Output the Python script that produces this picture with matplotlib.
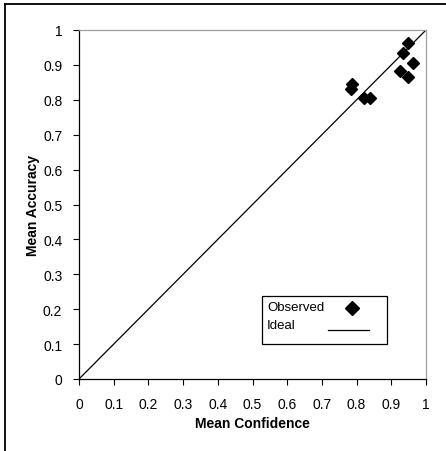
import matplotlib
matplotlib.use("Agg")
import matplotlib.pyplot as plt
from matplotlib.lines import Line2D
from matplotlib.patches import Rectangle

# ── data ──────────────────────────────────────────────────────────────────────
confidence = [0.947, 0.935, 0.963, 0.926, 0.949, 0.788, 0.784, 0.822, 0.838]
accuracy   = [0.962, 0.935, 0.905, 0.882, 0.865, 0.844, 0.831, 0.806, 0.804]
ideal      = [0, 1]
ticks      = [0, 0.1, 0.2, 0.3, 0.4, 0.5, 0.6, 0.7, 0.8, 0.9, 1]
tick_labels = ["0", "0.1", "0.2", "0.3", "0.4", "0.5", "0.6", "0.7", "0.8", "0.9", "1"]
legend_labels = ["Observed", "Ideal"]

plt.rcParams["font.family"] = ["Liberation Sans", "DejaVu Sans"]

W, H = 446, 452
fig = plt.figure(figsize=(W / 100, H / 100), dpi=100)
fig.patch.set_facecolor("white")

# outer chart-area border (only left/top visible in the original crop)
fig.add_artist(Line2D([5 / W, 5 / W], [0, 1 - 5 / H], color="black", lw=1.3,
                      transform=fig.transFigure))
fig.add_artist(Line2D([5 / W, 1], [1 - 5 / H, 1 - 5 / H], color="black", lw=1.3,
                      transform=fig.transFigure))

AX_L, AX_R, AX_T, AX_B = 79, 426, 31, 380
ax = fig.add_axes([AX_L / W, 1 - AX_B / H, (AX_R - AX_L) / W, (AX_B - AX_T) / H])


def ax_x(px):
    return (px - AX_L) / (AX_R - AX_L)


def ax_y(py):
    return (AX_B - py) / (AX_B - AX_T)


ax.plot(confidence, accuracy, linestyle="none", marker="D", markersize=6,
        color="black", clip_on=False)
ax.plot(ideal, ideal, color="black", lw=0.9)

ax.set_xlim(0, 1)
ax.set_ylim(0, 1)
ax.set_xticks(ticks)
ax.set_xticklabels(tick_labels)
ax.set_yticks(ticks)
ax.set_yticklabels(tick_labels)
ax.tick_params(direction="out", length=4, width=0.8, labelsize=10,
               colors="black")
ax.tick_params(axis="x", pad=9)
ax.tick_params(axis="y", pad=8)

ax.spines["left"].set_color("black")
ax.spines["bottom"].set_color("black")
ax.spines["top"].set_color("#a0a0a0")
ax.spines["right"].set_color("#a0a0a0")
for s in ax.spines.values():
    s.set_linewidth(0.9)

ax.set_xlabel("Mean Confidence", fontsize=10, fontweight="bold", va="center")
ax.xaxis.set_label_coords(0.5, ax_y(424))
ax.set_ylabel("Mean Accuracy", fontsize=10, fontweight="bold", va="center")
ax.yaxis.set_label_coords(ax_x(33), 0.5)

# legend box drawn by hand so the labels stay left-aligned, keys on the right
ax.add_patch(Rectangle((ax_x(262), ax_y(345)), ax_x(387) - ax_x(262),
                       ax_y(297) - ax_y(345), facecolor="white",
                       edgecolor="black", lw=0.9, zorder=5))
ax.text(ax_x(267), ax_y(308), legend_labels[0], fontsize=9.5, ha="left",
        va="center", zorder=6)
ax.text(ax_x(267), ax_y(326), legend_labels[1], fontsize=9.5, ha="left",
        va="center", zorder=6)
ax.plot([ax_x(352)], [ax_y(309)], marker="D", markersize=7, color="black",
        zorder=6)
ax.plot([ax_x(328), ax_x(369)], [ax_y(331), ax_y(331)], color="black", lw=0.9,
        zorder=6)

fig.savefig("out.png", dpi=100, facecolor="white")
